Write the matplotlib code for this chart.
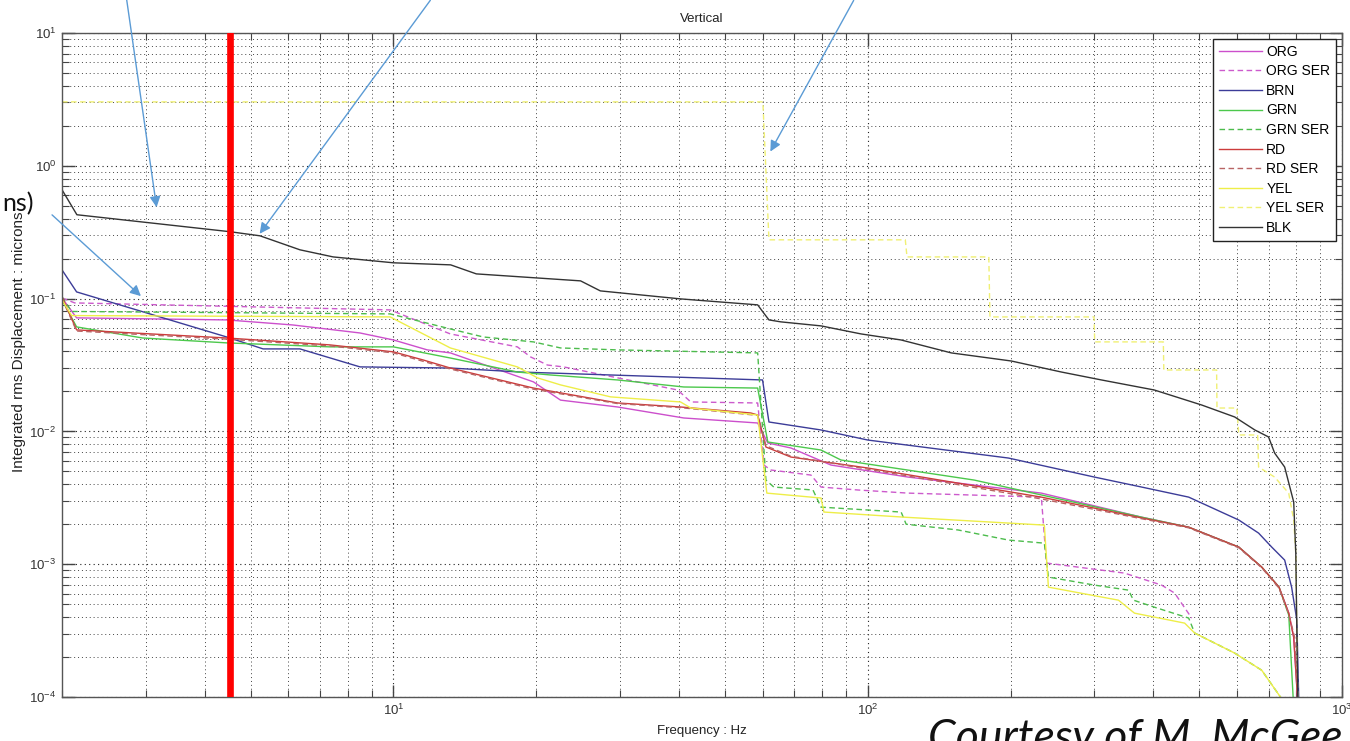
import numpy as np
import matplotlib
matplotlib.use('Agg')
import matplotlib.pyplot as plt
from matplotlib.ticker import LogLocator, NullFormatter

plt.rcParams['font.family'] = ['Liberation Sans', 'DejaVu Sans']
plt.rcParams['mathtext.fontset'] = 'custom'
plt.rcParams['mathtext.rm'] = 'Liberation Sans'
plt.rcParams['mathtext.default'] = 'regular'

# Integrated rms displacement (microns) vs frequency (Hz)
org_f = [2.0, 2.147, 4.454, 6.135, 8.5, 10.0, 11.78, 13.18, 19.73, 22.5, 29.68, 40.93, 58.6,
         61.56, 68.87, 83.64, 121.6, 232.3, 378, 475, 606, 677.2, 736.6, 772.3, 791, 807]
org_v = [0.1012, 0.0716, 0.0691, 0.0633, 0.0551, 0.0488, 0.0411, 0.039, 0.0236, 0.0172, 0.01527,
         0.01262, 0.01157, 0.00818, 0.0075, 0.00558, 0.00453, 0.00343, 0.00226, 0.0019, 0.001345,
         0.000951, 0.000672, 0.000428, 0.000282, 0.00009]

orgser_f = [2.0, 2.127, 9.84, 13.18, 18.25, 19.45, 21.12, 22.83, 39.74, 42.35, 58.6, 60.4, 62.47,
            75.9, 79.7, 95.4, 121.6, 232.3, 238.1, 347.8, 416.5, 443.7, 482.0]
orgser_v = [0.1012, 0.0928, 0.0822, 0.0542, 0.0433, 0.0364, 0.0316, 0.0306, 0.0205, 0.01666,
            0.01637, 0.00558, 0.00512, 0.00469, 0.00381, 0.00362, 0.00343, 0.0032, 0.00102,
            0.000857, 0.000696, 0.000606, 0.000393]

brn_f = [2.0, 2.147, 4.45, 5.31, 6.35, 8.5, 13.2, 18.5, 60.0, 61.9, 79.7, 100, 198, 300.6, 378,
         475, 606, 667, 711, 757, 783, 803, 811]
brn_v = [0.1645, 0.1123, 0.0514, 0.0418, 0.0418, 0.0306, 0.0300, 0.028, 0.0244, 0.01177, 0.01025,
         0.00861, 0.0063, 0.00453, 0.00381, 0.0032, 0.00215, 0.001715, 0.001345, 0.001074,
         0.000672, 0.00038, 0.00009]

grn_f = [2.0, 2.147, 2.959, 4.454, 7.35, 10.0, 13.18, 18.25, 21.43, 29.68, 40.93, 58.6, 61.56,
         79.7, 87.8, 167.7, 378, 475, 606, 677.2, 736.6, 772.3, 790]
grn_v = [0.0978, 0.0612, 0.0505, 0.0464, 0.0433, 0.0433, 0.0357, 0.028, 0.0266, 0.0244, 0.0216,
         0.0212, 0.00832, 0.00724, 0.00609, 0.0043, 0.00226, 0.0019, 0.001345, 0.000951,
         0.000672, 0.000413, 0.00009]

grnser_f = [2.0, 2.096, 9.84, 13.18, 15.47, 19.73, 22.5, 29.68, 58.6, 61.0, 63.38, 76.65, 79.7,
            117.6, 120.5, 155.1, 197.9, 235.7, 240.4, 300.6, 354.6, 363.3, 402, 475, 489.1, 594,
            677.2, 757]
grnser_v = [0.103, 0.080, 0.0767, 0.0591, 0.0514, 0.0472, 0.0425, 0.0411, 0.039, 0.0043, 0.00381,
            0.00362, 0.00269, 0.00247, 0.002, 0.00181, 0.00152, 0.00144, 0.0008, 0.000696,
            0.000638, 0.000536, 0.000475, 0.000393, 0.000303, 0.000214, 0.000159, 0.00009]

rd_f = [2.0, 2.147, 4.454, 7.35, 10.0, 11.55, 13.18, 19.73, 29.68, 40.3, 56.68, 58.6, 61.0, 68.87,
        100, 232.3, 378, 475, 606, 677.2, 736.6, 772.3, 791, 807]
rd_v = [0.103, 0.0581, 0.0505, 0.0448, 0.0397, 0.0345, 0.030, 0.0212, 0.01637, 0.01527, 0.01376,
        0.01329, 0.00763, 0.00641, 0.0053, 0.0032, 0.00223, 0.0019, 0.001345, 0.000951, 0.000672,
        0.000428, 0.000282, 0.00009]

rdser_f = [2.0, 2.147, 4.454, 7.35, 10.0, 13.18, 19.73, 29.68, 40.3, 58.6, 61.0, 68.87, 100,
           232.3, 378, 475, 606, 677.2, 736.6, 772.3, 795, 807]
rdser_v = [0.1, 0.057, 0.0495, 0.044, 0.039, 0.0295, 0.0208, 0.0162, 0.0151, 0.0132, 0.0078,
           0.0065, 0.0052, 0.0031, 0.0022, 0.00188, 0.00133, 0.00094, 0.00066, 0.00042, 0.00028,
           0.00009]

yel_f = [2.0, 2.096, 9.84, 13.18, 18.25, 20.12, 22.5, 28.68, 40.3, 42.35, 58.6, 61.27, 79.7,
         80.84, 119.3, 235.7, 240.4, 337.8, 365.1, 465.8, 489.1, 594, 677.2, 757]
yel_v = [0.0978, 0.0745, 0.0728, 0.0425, 0.0306, 0.0253, 0.0224, 0.0182, 0.01666, 0.01501,
         0.01329, 0.00343, 0.00315, 0.00247, 0.00226, 0.00197, 0.000672, 0.000536, 0.000428,
         0.00036, 0.000303, 0.000214, 0.000159, 0.00009]

yelser_f = [2.0, 60.1, 61.9, 120.0, 121.0, 180.0, 181.0, 300.0, 301.0, 420.0, 421.0, 544.0,
            545.0, 600.0, 606.0, 664.0, 667.0, 721.0, 772.0, 791.0, 799.0, 807.0]
yelser_v = [3.03, 3.03, 0.277, 0.277, 0.206, 0.206, 0.0728, 0.0728, 0.0472, 0.0472, 0.029, 0.029,
            0.015, 0.015, 0.0094, 0.0094, 0.00539, 0.00453, 0.00343, 0.00215, 0.00121, 0.00009]

blk_f = [2.0, 2.15, 4.52, 5.23, 6.35, 7.46, 10.0, 13.2, 14.95, 24.8, 27.3, 40.3, 58.6, 60.1, 61.9,
         65.6, 79.7, 96.8, 117.6, 150, 200.7, 256, 311, 402, 506, 594, 655, 700, 721, 757, 791,
         799, 807]
blk_v = [0.66, 0.428, 0.319, 0.297, 0.233, 0.206, 0.186, 0.1795, 0.1535, 0.136, 0.1143, 0.0995,
         0.0897, 0.0794, 0.0691, 0.0668, 0.0623, 0.0542, 0.0488, 0.039, 0.0339, 0.028, 0.0244,
         0.0205, 0.0158, 0.01284, 0.01025, 0.00908, 0.00687, 0.00539, 0.00294, 0.00121, 0.00009]

marker_freq = 4.52   # red vertical line

DASH = (0, (4, 2.5))
series = [
    ('ORG', org_f, org_v, '#cc4fcc', '-'),
    ('ORG SER', orgser_f, orgser_v, '#cc5acc', DASH),
    ('BRN', brn_f, brn_v, '#3c3c98', '-'),
    ('GRN', grn_f, grn_v, '#4cc84c', '-'),
    ('GRN SER', grnser_f, grnser_v, '#4cbc4c', DASH),
    ('RD', rd_f, rd_v, '#cc3c3c', '-'),
    ('RD SER', rdser_f, rdser_v, '#b86464', DASH),
    ('YEL', yel_f, yel_v, '#eeee48', '-'),
    ('YEL SER', yelser_f, yelser_v, '#f0f074', DASH),
    ('BLK', blk_f, blk_v, '#333333', '-'),
]

fig = plt.figure(figsize=(13.5, 7.41), dpi=100)
fig.patch.set_facecolor('white')
ax = fig.add_axes([62 / 1350, 44 / 741, 1280 / 1350, 664 / 741])

for label, f, v, color, ls in series:
    ax.plot(f, v, color=color, linestyle=ls, linewidth=1.0, label=label)

ax.axvline(marker_freq, color='#ff0000', linewidth=4.8, zorder=10)

ax.set_xscale('log')
ax.set_yscale('log')
ax.set_xlim(2, 1000)
ax.set_ylim(1e-4, 10)

for axis in (ax.xaxis, ax.yaxis):
    axis.set_major_locator(LogLocator(base=10, numticks=20))
    axis.set_minor_locator(LogLocator(base=10, subs=np.arange(2, 10), numticks=20))
    axis.set_minor_formatter(NullFormatter())

ax.set_axisbelow(True)
ax.grid(True, which='major', linestyle=(0, (1, 3)), color='#222222', linewidth=0.8)
ax.grid(True, which='minor', linestyle=(0, (1, 3)), color='#444444', linewidth=0.7)

ax.tick_params(which='major', direction='in', top=True, right=True, length=9, width=1.0,
               color='#444444', labelsize=9.5, labelcolor='#333333', pad=4)
ax.tick_params(which='minor', direction='in', top=True, right=True, length=5, width=0.8,
               color='#444444')
for sp in ax.spines.values():
    sp.set_color('#555555')
    sp.set_linewidth(1.0)

ax.set_title('Vertical', fontsize=9.5, color='#222222', pad=8)
ax.set_xlabel('Frequency : Hz', fontsize=9.5, color='#222222')
ax.xaxis.set_label_coords(0.5, -0.042)
ax.set_ylabel('Integrated rms Displacement : microns', fontsize=11, color='#222222')
ax.yaxis.set_label_coords(-0.028, 0.535)

leg = ax.legend(loc='upper right', fontsize=10, labelspacing=0.4, handlelength=3.1,
                handletextpad=0.3, borderpad=0.45, borderaxespad=0.4, fancybox=False,
                framealpha=1, edgecolor='#222222')
leg.get_frame().set_linewidth(1.0)
leg.set_zorder(20)

# callout arrows coming in from the (cropped) slide above
arrow_col = '#5b9bd5'
arrows = [((126, 746), (157, 531)),
          ((432, 743), (258, 505)),
          ((855, 743), (769, 587)),
          ((50, 528), (143, 443))]
for start, end in arrows:
    ax.annotate('', xy=end, xytext=start, xycoords='figure pixels', textcoords='figure pixels',
                arrowprops=dict(arrowstyle='-|>', color=arrow_col, lw=1.0, mutation_scale=16),
                annotation_clip=False, zorder=30)

fig.text(34 / 1350, (741 - 204) / 741, 'ns)', fontsize=18, ha='right', va='center',
         family=['Lato', 'DejaVu Sans'], color='#111111')
fig.text(928 / 1350, -0.0135, 'Courtesy of M. McGee', fontsize=32, style='italic',
         ha='left', va='baseline', family=['Lato', 'DejaVu Sans'], color='#111111')

fig.savefig('out.png', dpi=100, facecolor='white')
